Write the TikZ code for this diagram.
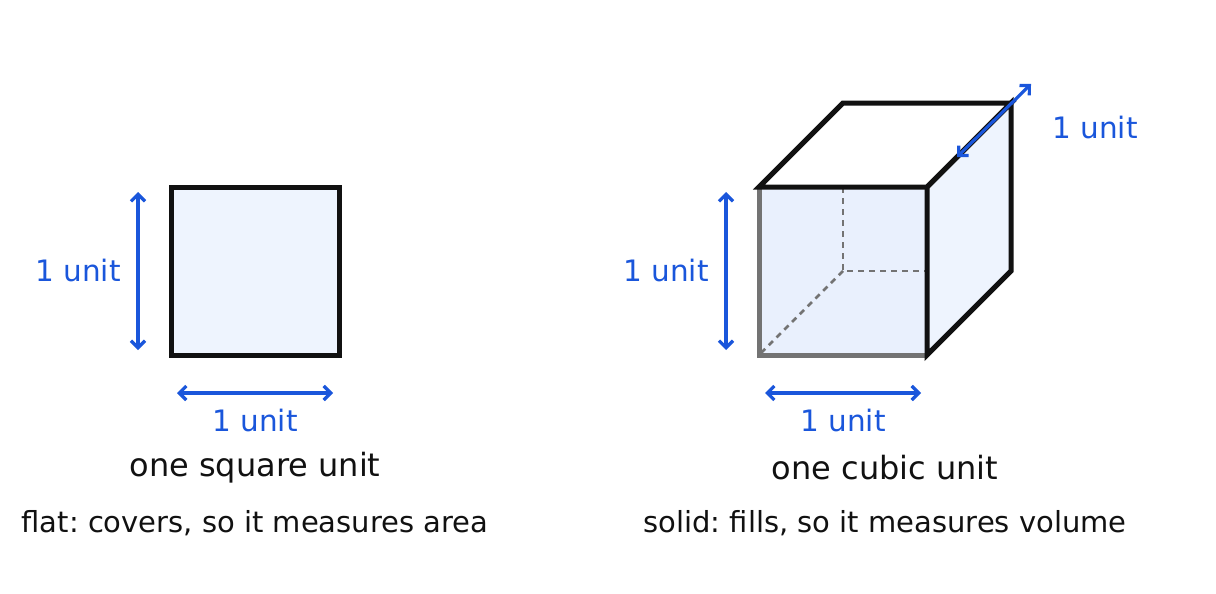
\documentclass[tikz,border=0pt]{standalone}
\usepackage{fontspec}
\setmainfont{DejaVu Sans}
\usetikzlibrary{arrows.meta}
\definecolor{bl}{HTML}{1A56DB}
\definecolor{fillA}{HTML}{EEF4FE}
\definecolor{fillB}{HTML}{E9F0FD}
\definecolor{dk}{HTML}{111111}
\tikzset{
 dim/.style={bl,line width=3.2pt,{Straight Barb[length=7pt,width=14pt]}-{Straight Barb[length=7pt,width=14pt]}},
 lab/.style={text=bl,font=\fontsize{29.5}{34}\selectfont,inner sep=0},
 cap1/.style={text=dk,font=\fontsize{32}{36}\selectfont,inner sep=0},
 cap2/.style={text=dk,font=\fontsize{29}{34}\selectfont,inner sep=0},
 edge/.style={dk,line width=5pt,line join=miter},
 hid/.style={gray!90!black,line width=2.5pt,dash pattern=on 6pt off 5pt}
}
\begin{document}
\frenchspacing
\begin{tikzpicture}[x=1pt,y=-1pt]
\useasboundingbox (0,0) rectangle (1216,594);
% square
\draw[edge,fill=fillA] (171,187) rectangle (339,355);
\coordinate (sa1) at (138,192); \coordinate (sa2) at (138,350);
\draw[dim] (sa1) -- (sa2);
\coordinate (sb1) at (177,393); \coordinate (sb2) at (333,393);
\draw[dim] (sb1) -- (sb2);
\node[lab] (l1) at (78,271) {1 unit};
\node[lab] (l2) at (255,420) {1 unit};
\node[cap1] (c1) at (255,468) {one square unit};
\node[cap2] (c2) at (255,523) {flat: covers, so it measures area};
% cube
\fill[fillB] (759,187) rectangle (927,355);
\draw[hid] (843,187) -- (843,271) -- (927,271);
\draw[hid] (843,271) -- (759,355);
\draw[gray!90!black,line width=5pt] (759,187) -- (759,355) -- (927,355);
\draw[edge,fill=fillA] (927,187) -- (1011,103) -- (1011,271) -- (927,355) -- cycle;
\draw[edge,fill=white] (759,187) -- (843,103) -- (1011,103) -- (927,187) -- cycle;
\coordinate (ca1) at (726,192); \coordinate (ca2) at (726,350);
\draw[dim] (ca1) -- (ca2);
\coordinate (cb1) at (765,393); \coordinate (cb2) at (921,393);
\draw[dim] (cb1) -- (cb2);
\coordinate (cd1) at (957,157); \coordinate (cd2) at (1031,84);
\draw[dim] (cd1) -- (cd2);
\node[lab] (l3) at (666,271) {1 unit};
\node[lab] (l4) at (843,420) {1 unit};
\node[lab] (l5) at (1095,128) {1 unit};
\node[cap1] (c3) at (885,468) {one cubic unit};
\node[cap2] (c4) at (885,523) {solid: fills, so it measures volume};
\end{tikzpicture}
\end{document}
